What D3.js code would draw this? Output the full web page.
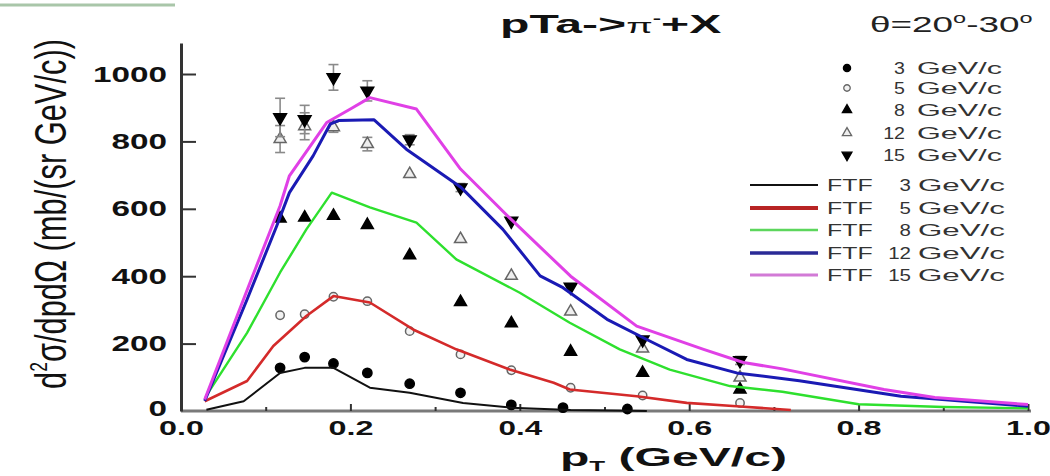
<!DOCTYPE html>
<html><head><meta charset="utf-8">
<script src="https://cdn.jsdelivr.net/npm/d3@7"></script>
<style>body{margin:0;background:#fff}svg{display:block;font-family:"Liberation Sans",Arial,sans-serif}</style>
</head><body><svg id="c" width="1050" height="476"></svg>
<script>
// ---- data ----
const xTicks = [0,0.1,0.2,0.3,0.4,0.5,0.6,0.7,0.8,0.9,1.0];
const xTickLabels = ["0.0","","0.2","","0.4","","0.6","","0.8","","1.0"];
const yTicks = [0,200,400,600,800,1000];
const yTickLabels = ["0","200","400","600","800","1000"];
const momenta = ["3","5","8","12","15"];
const unit = "GeV/c";

const dataX = [0.117,0.146,0.18,0.22,0.27,0.33,0.39,0.46,0.545,0.66];
const data3X = [0.117,0.146,0.18,0.22,0.27,0.33,0.39,0.451,0.527];
const exp3  = [128,160,141,113,81,54,18,10,6];
const exp5  = [284,287,339,326,237,168,121,69,46,24];
const exp8  = [571,574,579,552,462,323,260,176,113,64];
const exp12 = [807,845,842,792,703,510,401,295,185,99];
const err12 = [40,40,15,20,10,10,8,8,8,8];
const exp15 = [871,865,990,950,805,663,564,368,212,150];
const err15 = [57,42,38,30,15,12,10,10,10,12];

const ftf3  = [[0.03,4],[0.074,29],[0.117,113],[0.146,128],[0.18,128],[0.223,69],[0.27,54],[0.333,24],[0.39,10],[0.46,3],[0.55,0]];
const ftf5  = [[0.028,29],[0.078,89],[0.109,193],[0.148,282],[0.18,341],[0.223,322],[0.274,242],[0.325,183],[0.388,123],[0.44,84],[0.459,64],[0.538,44],[0.597,24],[0.656,14],[0.72,3]];
const ftf8  = [[0.032,54],[0.078,232],[0.117,411],[0.148,539],[0.178,648],[0.223,604],[0.278,559],[0.325,450],[0.4,351],[0.459,262],[0.518,183],[0.577,123],[0.648,74],[0.71,57],[0.8,20],[0.9,12],[1.0,8]];
const ftf12 = [[0.028,30],[0.078,331],[0.113,549],[0.128,648],[0.156,757],[0.176,851],[0.186,862],[0.228,864],[0.266,777],[0.33,665],[0.38,539],[0.424,401],[0.451,366],[0.503,272],[0.554,207],[0.597,153],[0.656,113],[0.73,90],[0.85,44],[1.0,14]];
const ftf15 = [[0.028,34],[0.083,391],[0.117,609],[0.128,698],[0.172,856],[0.2,896],[0.223,930],[0.278,896],[0.33,718],[0.388,573],[0.46,400],[0.538,252],[0.617,183],[0.664,144],[0.71,125],[0.83,64],[0.89,40],[1.0,19]];

// ---- chart ----
const svg = d3.select("#c");
const x = d3.scaleLinear().domain([0,1]).range([181,1028]);
const y = d3.scaleLinear().domain([0,1092]).range([411,43]);

function fitW(sel, w){
  const n = sel.node(); const bw = n.getBBox().width; const s = w/bw;
  const ax = +sel.attr("x") || 0;
  sel.attr("transform", `translate(${ax},0) scale(${s},1) translate(${-ax},0)`);
}

// artifact line top-left
svg.append("line").attr("x1",0).attr("x2",175).attr("y1",5).attr("y2",5)
  .attr("stroke","#a9c6a9").attr("stroke-width",3);

// axes
const gx = svg.append("g").attr("transform",`translate(0,${y(0)})`)
  .call(d3.axisBottom(x).tickValues(xTicks).tickSizeInner(-7).tickSizeOuter(0).tickPadding(10)
    .tickFormat((d,i)=>xTickLabels[i]));
gx.select(".domain").attr("stroke","#7a7a7a").attr("stroke-width",3)
  .attr("d",`M${x(0)},0H1031`);
gx.selectAll(".tick line").attr("stroke","#333").attr("stroke-width",2)
  .attr("y2",(d,i)=> i%2? -4 : -7);
gx.selectAll(".tick text").attr("fill","#111").attr("font-size",20).attr("font-weight","bold")
  .attr("font-family","Liberation Sans, Arial, sans-serif")
  .each(function(){ const t=d3.select(this); if(t.text()) fitW(t,45); });

const gy = svg.append("g").attr("transform",`translate(${x(0)},0)`)
  .call(d3.axisLeft(y).tickValues(yTicks).tickSizeInner(-15).tickSizeOuter(0).tickPadding(14)
    .tickFormat((d,i)=>yTickLabels[i]));
gy.select(".domain").attr("stroke","#333").attr("stroke-width",3);
gy.selectAll(".tick line").attr("stroke","#333").attr("stroke-width",2)
  .attr("display",(d)=> d===0 ? "none" : null);
gy.selectAll(".tick text").attr("fill","#111").attr("font-size",22).attr("font-weight","bold")
  .attr("font-family","Liberation Sans, Arial, sans-serif")
  .attr("dy",(d)=> d===0 ? "0.2em" : "0.32em")
  .each(function(){ const t=d3.select(this); fitW(t, t.text().length*18.5); });

// markers
const sym = d3.symbol();
const styles = [
  {type:d3.symbolCircle, size:68, fill:"#000", stroke:"#000", rot:0},
  {type:d3.symbolCircle, size:55, fill:"#f2f2f2", stroke:"#666", rot:0},
  {type:d3.symbolTriangle, size:62, fill:"#000", stroke:"#000", rot:0},
  {type:d3.symbolTriangle, size:62, fill:"#eee", stroke:"#666", rot:0},
  {type:d3.symbolTriangle, size:70, fill:"#000", stroke:"#000", rot:180}
];
const expSeries = [
  {xs:data3X, ys:exp3},
  {xs:dataX, ys:exp5},
  {xs:dataX, ys:exp8},
  {xs:dataX, ys:exp12, err:err12},
  {xs:dataX, ys:exp15, err:err15}
];
const gm = svg.append("g");
expSeries.forEach((s,k)=>{
  const st = styles[k];
  const pts = s.ys.map((v,i)=>({x:s.xs[i], y:v, e: s.err ? s.err[i] : 0}));
  if (s.err) {
    const eg = gm.append("g").attr("stroke","#8a8a8a").attr("stroke-width",1.6);
    pts.forEach(p=>{
      if (p.e < 12) return;
      eg.append("line").attr("x1",x(p.x)).attr("x2",x(p.x)).attr("y1",y(p.y-p.e)).attr("y2",y(p.y+p.e));
      eg.append("line").attr("x1",x(p.x)-5).attr("x2",x(p.x)+5).attr("y1",y(p.y-p.e)).attr("y2",y(p.y-p.e));
      eg.append("line").attr("x1",x(p.x)-5).attr("x2",x(p.x)+5).attr("y1",y(p.y+p.e)).attr("y2",y(p.y+p.e));
    });
  }
  gm.selectAll(null).data(pts).join("path")
    .attr("d", sym.type(st.type).size(st.size)())
    .attr("transform", p=>`translate(${x(p.x)},${y(p.y)}) rotate(${st.rot})`)
    .attr("fill", st.fill).attr("stroke", st.stroke).attr("stroke-width", 1.5);
});

// FTF lines
const ftfSeries = [
  {d:ftf3,  c:"#111111", w:2},
  {d:ftf5,  c:"#d42a2a", w:2.6},
  {d:ftf8,  c:"#2ee02e", w:2.4},
  {d:ftf12, c:"#1a1ab4", w:3},
  {d:ftf15, c:"#e040e6", w:3}
];
const line = d3.line().x(d=>x(d[0])).y(d=>y(d[1]));
ftfSeries.forEach(s=>{
  svg.append("path").attr("d", line(s.d)).attr("fill","none")
    .attr("stroke", s.c).attr("stroke-width", s.w).attr("stroke-linejoin","round");
});

// title
const title = svg.append("text").attr("x",500).attr("y",33).attr("font-size",25)
  .attr("font-weight","bold").attr("fill","#111");
title.append("tspan").text("pTa->");
title.append("tspan").attr("font-size",20).attr("font-weight","normal").text("π");
title.append("tspan").attr("font-size",13).attr("dy",-10).text("-");
title.append("tspan").attr("dy",10).text("+X");
fitW(title,222);

const ang = svg.append("text").attr("x",870).attr("y",32).attr("font-size",22).attr("fill","#222");
ang.append("tspan").text("θ=20");
ang.append("tspan").attr("font-size",14).attr("dy",-9).text("o");
ang.append("tspan").attr("dy",9).text("-30");
ang.append("tspan").attr("font-size",14).attr("dy",-9).text("o");
fitW(ang,163);

// legends (symbols)
const legRowsA = [68,88,110,133,155];
momenta.forEach((m,k)=>{
  const st = styles[k];
  const cy = legRowsA[k];
  svg.append("path").attr("d", sym.type(st.type).size(st.size*0.6)())
    .attr("transform",`translate(847,${cy}) rotate(${st.rot})`)
    .attr("fill",st.fill).attr("stroke",st.stroke).attr("stroke-width",1.3);
  const tn = svg.append("text").attr("x",905).attr("y",cy+6).attr("text-anchor","end")
    .attr("font-size",16).attr("fill","#333").text(m);
  fitW(tn, m.length*11);
  const tu = svg.append("text").attr("x",917).attr("y",cy+6).attr("font-size",16).attr("fill","#333").text(unit);
  fitW(tu,85);
});

// legends (lines)
const legRowsB = [185,208,230,253,275];
const legCols = ["#111111","#b82424","#5cd65c","#2a2a96","#d27ad6"];
const legW = [2,4,2.5,3.5,3];
momenta.forEach((m,k)=>{
  const cy = legRowsB[k];
  svg.append("line").attr("x1",750).attr("x2",818).attr("y1",cy).attr("y2",cy)
    .attr("stroke",legCols[k]).attr("stroke-width",legW[k]);
  const tf = svg.append("text").attr("x",827).attr("y",cy+6).attr("font-size",16).attr("fill","#333").text("FTF");
  fitW(tf,46);
  const tn = svg.append("text").attr("x",911).attr("y",cy+6).attr("text-anchor","end")
    .attr("font-size",16).attr("fill","#333").text(m);
  fitW(tn, m.length*11.5);
  const tu = svg.append("text").attr("x",918).attr("y",cy+6).attr("font-size",16).attr("fill","#333").text(unit);
  fitW(tu,87);
});

// axis titles
const xl = svg.append("text").attr("x",560).attr("y",466).attr("font-size",26)
  .attr("font-weight","bold").attr("fill","#111");
xl.append("tspan").text("p");
xl.append("tspan").attr("font-size",14).attr("dy",5).text("T");
xl.append("tspan").attr("dy",-5).text(" (GeV/c)");
fitW(xl,227);

const yg = svg.append("g").attr("transform","translate(66,214) rotate(-90)");
const yl = yg.append("text").attr("x",0).attr("y",0).attr("text-anchor","middle")
  .attr("font-size",30).attr("fill","#111");
yl.append("tspan").text("d");
yl.append("tspan").attr("font-size",17).attr("dy",-13).text("2");
yl.append("tspan").attr("dy",13).text("σ/dpdΩ (mb/(sr GeV/c))");
{
  const bw = yl.node().getBBox().width;
  yl.attr("transform",`scale(${350/bw},1.45)`);
}
</script></body></html>
